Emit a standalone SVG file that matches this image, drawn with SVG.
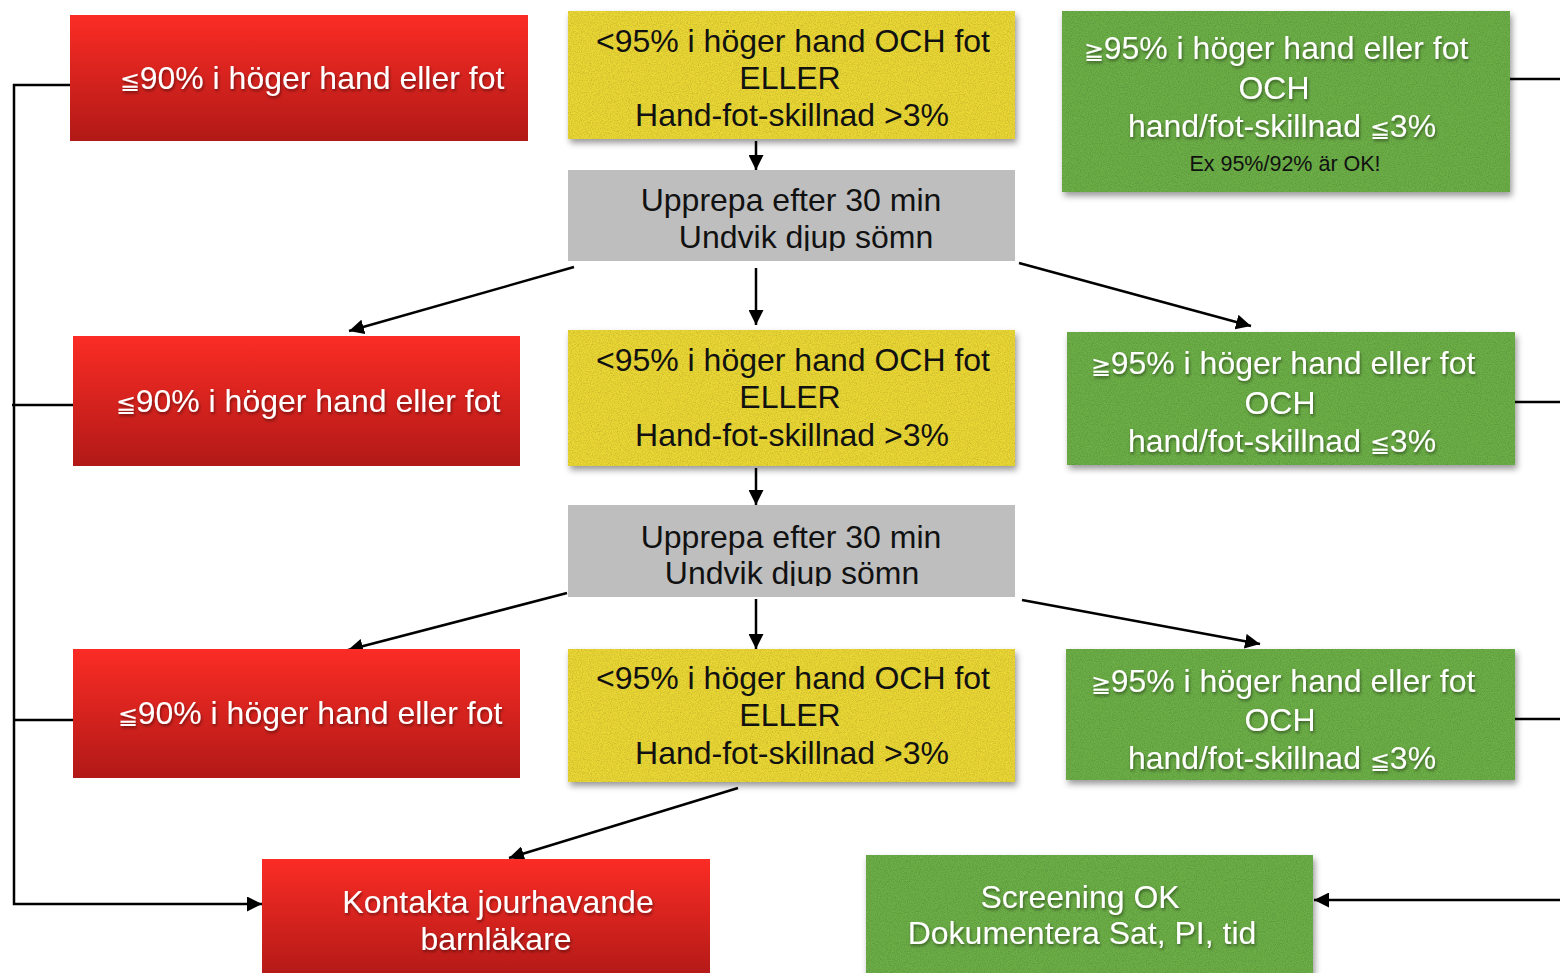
<svg xmlns="http://www.w3.org/2000/svg" width="1560" height="973" viewBox="0 0 1560 973">
<style>
.t{font-family:"Liberation Sans",Arial,sans-serif;font-size:32px;text-anchor:middle}
.w{fill:#ffffff;filter:url(#tshadow)}
.k{fill:#111111}
.s{font-size:21.5px}
.m{font-size:24px}
.red{fill:url(#redg)}
.yel{fill:#ebd834;filter:url(#shadow)}
.grn{fill:#6caf46;filter:url(#shadow)}
.gry{fill:#bebebe}
.grain{fill:#000;filter:url(#noise);opacity:0.25}
.c{fill:none;stroke:#000;stroke-width:2.5}
.a{marker-end:url(#ah)}
</style>
<defs>
<linearGradient id="redg" x1="0" y1="0" x2="0" y2="1">
<stop offset="0" stop-color="#fb2c25"/>
<stop offset="1" stop-color="#b11917"/>
</linearGradient>
<filter id="shadow" x="-5%" y="-10%" width="115%" height="130%">
<feDropShadow dx="2" dy="4" stdDeviation="3" flood-color="#000" flood-opacity="0.4"/>
</filter>
<filter id="tshadow" x="-5%" y="-20%" width="110%" height="150%">
<feDropShadow dx="1" dy="2" stdDeviation="1.5" flood-color="#000" flood-opacity="0.45"/>
</filter>
<filter id="noise" x="0" y="0" width="100%" height="100%">
<feTurbulence type="fractalNoise" baseFrequency="0.9" numOctaves="2" stitchTiles="stitch" result="n"/>
<feColorMatrix in="n" type="matrix" values="0 0 0 0 0  0 0 0 0 0  0 0 0 0 0  1.2 0 0 0 -0.45" result="m"/>
<feComposite in="m" in2="SourceAlpha" operator="in"/>
</filter>
<marker id="ah" viewBox="0 0 10 10" refX="10" refY="5" markerWidth="6" markerHeight="6" orient="auto" markerUnits="strokeWidth">
<path d="M0,0 L10,5 L0,10 z" fill="#000"/>
</marker>
<clipPath id="clipG1"><rect x="568" y="170" width="447" height="81"/></clipPath>
<clipPath id="clipG2"><rect x="568" y="505" width="447" height="81"/></clipPath>
</defs>
<rect width="1560" height="973" fill="#ffffff"/>

<g id="connectors">
<path class="c a" d="M75,85 H14 V904 H262"/>
<path class="c" d="M12,405 H73"/>
<path class="c" d="M15,720 H76"/>
<path class="c" d="M1510,79 H1560"/>
<path class="c" d="M1515,402 H1560"/>
<path class="c" d="M1515,719 H1560"/>
<path class="c a" d="M1560,900 H1314"/>
<path class="c a" d="M756,141 V170"/>
<path class="c a" d="M756,268 V325"/>
<path class="c a" d="M574,267 L349,331"/>
<path class="c a" d="M1019,263 L1251,326"/>
<path class="c a" d="M756,468 V505"/>
<path class="c a" d="M756,599 V649"/>
<path class="c a" d="M567,593 L348,650"/>
<path class="c a" d="M1022,600 L1260,644"/>
<path class="c a" d="M738,788 L509,858"/>
</g>

<g id="r1">
<rect class="red" x="70" y="15" width="458" height="126"/>
<text class="t w" x="312" y="89"><tspan class="m">≦</tspan>90% i höger hand eller fot</text>
</g>
<g id="y1">
<rect class="yel" x="568" y="11" width="447" height="128"/>
<rect class="grain" x="568" y="11" width="447" height="128"/>
<text class="t k" x="793" y="52">&lt;95% i höger hand OCH fot</text>
<text class="t k" x="790" y="89">ELLER</text>
<text class="t k" x="792" y="126">Hand-fot-skillnad &gt;3%</text>
</g>
<g id="gr1">
<rect class="grn" x="1062" y="11" width="448" height="181"/>
<rect class="grain" x="1062" y="11" width="448" height="181"/>
<text class="t w" x="1276" y="59"><tspan class="m">≧</tspan>95% i höger hand eller fot</text>
<text class="t w" x="1274" y="99">OCH</text>
<text class="t w" x="1282" y="137">hand/fot-skillnad <tspan class="m">≦</tspan>3%</text>
<text class="t k s" x="1285" y="171">Ex 95%/92% är OK!</text>
</g>
<g id="g1">
<rect class="gry" x="568" y="170" width="447" height="91"/>
<g clip-path="url(#clipG1)">
<text class="t k" x="791" y="211">Upprepa efter 30 min</text>
<text class="t k" x="806" y="248">Undvik djup sömn</text>
</g>
</g>
<g id="r2">
<rect class="red" x="73" y="336" width="447" height="130"/>
<text class="t w" x="308" y="412"><tspan class="m">≦</tspan>90% i höger hand eller fot</text>
</g>
<g id="y2">
<rect class="yel" x="568" y="330" width="447" height="136"/>
<rect class="grain" x="568" y="330" width="447" height="136"/>
<text class="t k" x="793" y="371">&lt;95% i höger hand OCH fot</text>
<text class="t k" x="790" y="408">ELLER</text>
<text class="t k" x="792" y="446">Hand-fot-skillnad &gt;3%</text>
</g>
<g id="gr2">
<rect class="grn" x="1067" y="332" width="448" height="133"/>
<rect class="grain" x="1067" y="332" width="448" height="133"/>
<text class="t w" x="1283" y="374"><tspan class="m">≧</tspan>95% i höger hand eller fot</text>
<text class="t w" x="1280" y="414">OCH</text>
<text class="t w" x="1282" y="452">hand/fot-skillnad <tspan class="m">≦</tspan>3%</text>
</g>
<g id="g2">
<rect class="gry" x="568" y="505" width="447" height="92"/>
<g clip-path="url(#clipG2)">
<text class="t k" x="791" y="548">Upprepa efter 30 min</text>
<text class="t k" x="792" y="584">Undvik djup sömn</text>
</g>
</g>
<g id="r3">
<rect class="red" x="73" y="649" width="447" height="129"/>
<text class="t w" x="310" y="724"><tspan class="m">≦</tspan>90% i höger hand eller fot</text>
</g>
<g id="y3">
<rect class="yel" x="568" y="649" width="447" height="133"/>
<rect class="grain" x="568" y="649" width="447" height="133"/>
<text class="t k" x="793" y="689">&lt;95% i höger hand OCH fot</text>
<text class="t k" x="790" y="726">ELLER</text>
<text class="t k" x="792" y="764">Hand-fot-skillnad &gt;3%</text>
</g>
<g id="gr3">
<rect class="grn" x="1066" y="649" width="449" height="131"/>
<rect class="grain" x="1066" y="649" width="449" height="131"/>
<text class="t w" x="1283" y="692"><tspan class="m">≧</tspan>95% i höger hand eller fot</text>
<text class="t w" x="1280" y="731">OCH</text>
<text class="t w" x="1282" y="769">hand/fot-skillnad <tspan class="m">≦</tspan>3%</text>
</g>
<g id="r4">
<rect class="red" x="262" y="859" width="448" height="120"/>
<text class="t w" x="498" y="913">Kontakta jourhavande</text>
<text class="t w" x="496" y="950">barnläkare</text>
</g>
<g id="gr4">
<rect class="grn" x="866" y="855" width="447" height="125"/>
<rect class="grain" x="866" y="855" width="447" height="125"/>
<text class="t w" x="1080" y="908">Screening OK</text>
<text class="t w" x="1082" y="944">Dokumentera Sat, PI, tid</text>
</g>
</svg>
